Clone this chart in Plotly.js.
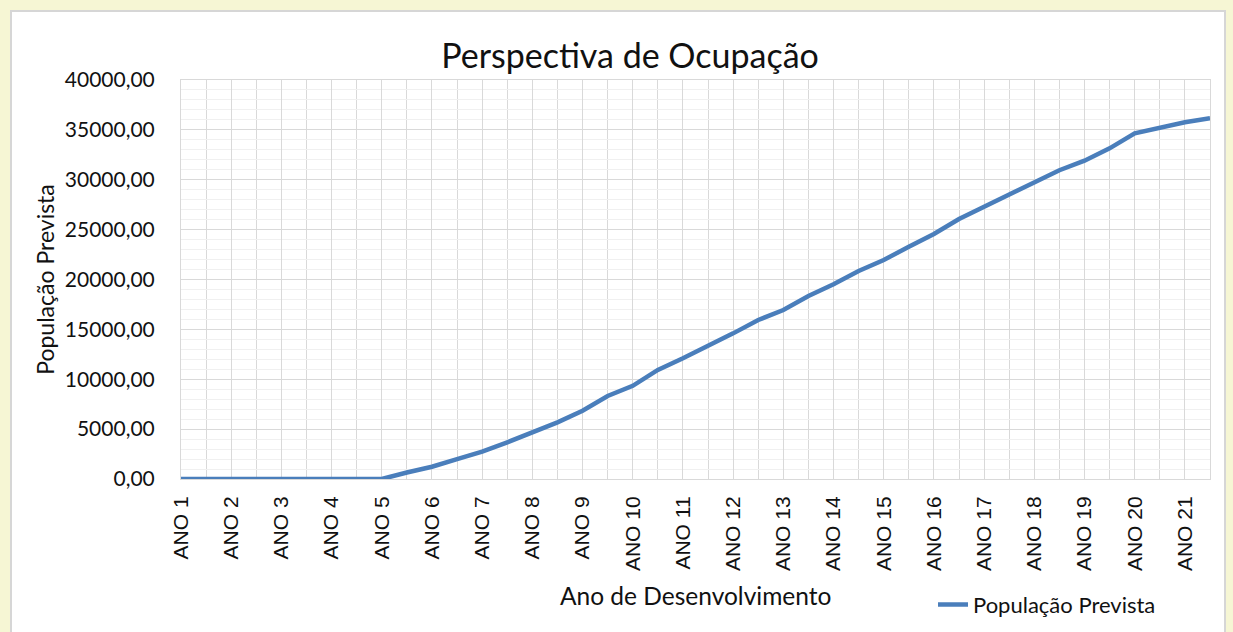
<!DOCTYPE html>
<html>
<head>
<meta charset="utf-8">
<script src="https://cdn.plot.ly/plotly-3.0.1.min.js"></script>
<style>
  html, body { margin: 0; padding: 0; background: #F6F6D4; width: 1233px; height: 632px; overflow: hidden; }
  #frame { position: absolute; left: 10px; top: 10px; width: 1216px; height: 640px; background: #ffffff; border: 2px solid #d6d6d6; box-sizing: border-box; }
  #chart { position: absolute; left: 0; top: 0; width: 1233px; height: 632px; }
</style>
</head>
<body>
<div id="frame"></div>
<div id="chart"></div>
<script>
// Semester positions (year units) and predicted population
const semestres = [1, 1.5, 2, 2.5, 3, 3.5, 4, 4.5, 5, 5.5, 6, 6.5, 7, 7.5, 8, 8.5, 9, 9.5, 10, 10.5,
                   11, 11.5, 12, 12.5, 13, 13.5, 14, 14.5, 15, 15.5, 16, 16.5, 17, 17.5, 18, 18.5,
                   19, 19.5, 20, 20.5, 21, 21.5];
const populacaoPrevista = [0, 0, 0, 0, 0, 0, 0, 0, 0, 650, 1230, 2000, 2740, 3680, 4640, 5680, 6850, 8320,
                   9340, 10930, 12100, 13330, 14600, 15940, 16940, 18350, 19520, 20860, 21950, 23290,
                   24560, 26070, 27300, 28570, 29800, 30950, 31910, 33150, 34650, 35260, 35760, 36160];
const anosTick = [1, 2, 3, 4, 5, 6, 7, 8, 9, 10, 11, 12, 13, 14, 15, 16, 17, 18, 19, 20, 21];
const anosLabels = ["ANO 1", "ANO 2", "ANO 3", "ANO 4", "ANO 5", "ANO 6", "ANO 7", "ANO 8", "ANO 9", "ANO 10",
                    "ANO 11", "ANO 12", "ANO 13", "ANO 14", "ANO 15", "ANO 16", "ANO 17", "ANO 18", "ANO 19",
                    "ANO 20", "ANO 21"];
const tituloX = "Ano de Desenvolvimento";

const txt = "#111111";
const calib = "Lato, 'Open Sans', sans-serif";

const trace = {
  x: semestres,
  y: populacaoPrevista,
  type: "scatter",
  mode: "lines",
  name: "População Prevista",
  line: { color: "#4A7EBB", width: 4.5 },
  hoverinfo: "y"
};

const layout = {
  width: 1233,
  height: 632,
  paper_bgcolor: "rgba(0,0,0,0)",
  plot_bgcolor: "#ffffff",
  separators: ",.",
  margin: { l: 181, r: 23, t: 80, b: 153 },
  title: {
    text: "Perspectiva de Ocupação",
    font: { family: calib, size: 34, color: txt },
    xref: "container", x: 0.511, xanchor: "center",
    yref: "container", y: 0.912, yanchor: "middle"
  },
  xaxis: {
    range: [1, 21.5],
    tickmode: "array",
    tickvals: anosTick,
    ticktext: anosLabels,
    tickangle: -90,
    tickfont: { family: "'Liberation Sans', Arial, sans-serif", size: 21, color: txt },
    ticks: "outside", ticklen: 8, tickcolor: "rgba(0,0,0,0)",
    showgrid: true, gridcolor: "#d9d9d9", gridwidth: 1,
    minor: { tick0: 1, dtick: 0.5, showgrid: true, gridcolor: "#d9d9d9", gridwidth: 1 },
    showline: true, linecolor: "#d9d9d9", linewidth: 1, mirror: true,
    zeroline: false,
    automargin: false
  },
  yaxis: {
    range: [0, 40000],
    dtick: 5000,
    tickformat: ".2f",
    tickfont: { family: calib, size: 21, color: txt },
    ticks: "outside", ticklen: 21, tickcolor: "rgba(0,0,0,0)",
    showgrid: true, gridcolor: "#d9d9d9", gridwidth: 1,
    minor: { dtick: 1000, showgrid: true, gridcolor: "#f0f0f0", gridwidth: 1 },
    showline: true, linecolor: "#d9d9d9", linewidth: 1, mirror: true,
    zeroline: false,
    title: { text: "População Prevista", font: { family: calib, size: 23, color: txt }, standoff: 3 },
    automargin: false
  },
  annotations: [{
    text: tituloX,
    xref: "paper", x: 0.5, xanchor: "center",
    yref: "paper", y: -0.293, yanchor: "middle",
    showarrow: false,
    font: { family: calib, size: 24.5, color: txt }
  }],
  showlegend: true,
  legend: {
    orientation: "h",
    xref: "container", x: 0.7567, xanchor: "left",
    yref: "container", y: 0.043, yanchor: "middle",
    font: { family: calib, size: 22, color: txt },
    bgcolor: "rgba(0,0,0,0)"
  }
};

Plotly.newPlot("chart", [trace], layout, { displayModeBar: false, staticPlot: true });
</script>
</body>
</html>
